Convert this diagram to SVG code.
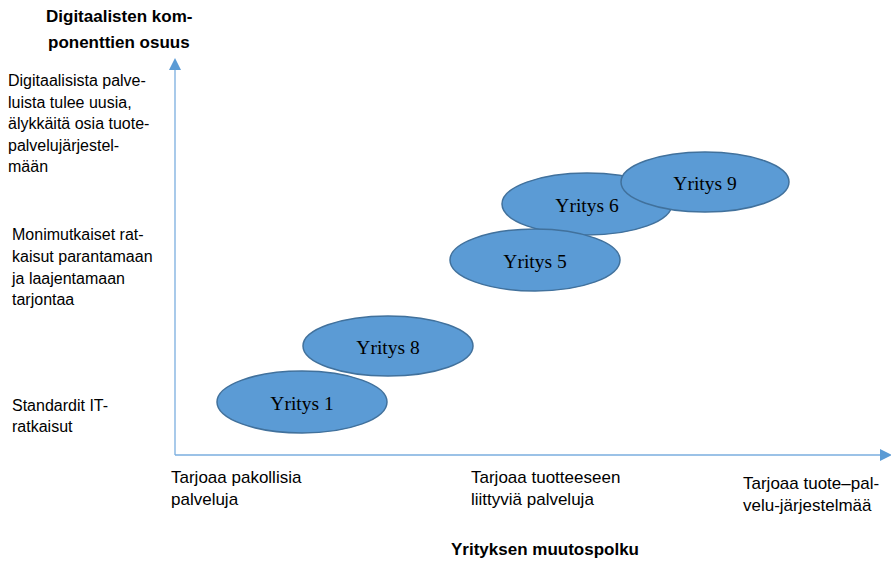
<svg xmlns="http://www.w3.org/2000/svg" width="891" height="561" viewBox="0 0 891 561">
<style>
.lbl{font-family:"Liberation Sans",Arial,sans-serif;font-size:16px;fill:#000}
.xl{font-size:17px}
.bold{font-family:"Liberation Sans",Arial,sans-serif;font-size:17px;font-weight:bold;fill:#000}
.node ellipse{fill:#5B9BD5;stroke:#41719C;stroke-width:1.5}
.node text{font-family:"Liberation Serif","Times New Roman",serif;font-size:19.5px;fill:#000;text-anchor:middle}
.axis{stroke:#7AAEDF;stroke-width:1.3;fill:none}
</style>
<defs>
<marker id="ah" markerWidth="12" markerHeight="12" refX="10" refY="6" orient="auto" markerUnits="userSpaceOnUse">
<path d="M0,0 L12,6 L0,12 Z" fill="#5B9BD5"/>
</marker>
</defs>
<rect width="891" height="561" fill="#fff"/>
<g id="connectors">
<path class="axis" d="M175,455 L175,60" marker-end="url(#ah)"/>
<path class="axis" d="M175,455 L890,455" marker-end="url(#ah)"/>
</g>
<g id="y-title"><text class="bold" x="46" y="22">Digitaalisten kom-</text><text class="bold" x="48" y="48">ponenttien osuus</text></g>
<g id="y-label-top"><text class="lbl" x="8" y="86">Digitaalisista palve-</text><text class="lbl" x="8" y="107.5">luista tulee uusia,</text><text class="lbl" x="8" y="129">älykkäitä osia tuote-</text><text class="lbl" x="8" y="150.5">palvelujärjestel-</text><text class="lbl" x="8" y="172">mään</text></g>
<g id="y-label-mid"><text class="lbl" x="12" y="240">Monimutkaiset rat-</text><text class="lbl" x="12" y="262">kaisut parantamaan</text><text class="lbl" x="12" y="284">ja laajentamaan</text><text class="lbl" x="12" y="305">tarjontaa</text></g>
<g id="y-label-low"><text class="lbl" x="12" y="411">Standardit IT-</text><text class="lbl" x="12" y="432">ratkaisut</text></g>
<g id="x-label-1"><text class="lbl xl" x="171" y="483">Tarjoaa pakollisia</text><text class="lbl xl" x="171" y="505">palveluja</text></g>
<g id="x-label-2"><text class="lbl xl" x="471" y="483">Tarjoaa tuotteeseen</text><text class="lbl xl" x="471" y="505">liittyviä palveluja</text></g>
<g id="x-label-3"><text class="lbl xl" x="743" y="489">Tarjoaa tuote–pal-</text><text class="lbl xl" x="743" y="511">velu-järjestelmää</text></g>
<g id="x-title"><text class="bold" x="545" y="555" text-anchor="middle">Yrityksen muutospolku</text></g>
<g id="yritys6" class="node"><ellipse cx="587" cy="204" rx="85" ry="31"/><text x="587" y="212">Yritys 6</text></g>
<g id="yritys9" class="node"><ellipse cx="705" cy="182" rx="84" ry="30"/><text x="705" y="190">Yritys 9</text></g>
<g id="yritys5" class="node"><ellipse cx="535" cy="260" rx="85" ry="31"/><text x="535" y="268">Yritys 5</text></g>
<g id="yritys8" class="node"><ellipse cx="388" cy="346" rx="85" ry="30"/><text x="388" y="354">Yritys 8</text></g>
<g id="yritys1" class="node"><ellipse cx="302" cy="402" rx="85" ry="31"/><text x="302" y="410">Yritys 1</text></g>
</svg>
